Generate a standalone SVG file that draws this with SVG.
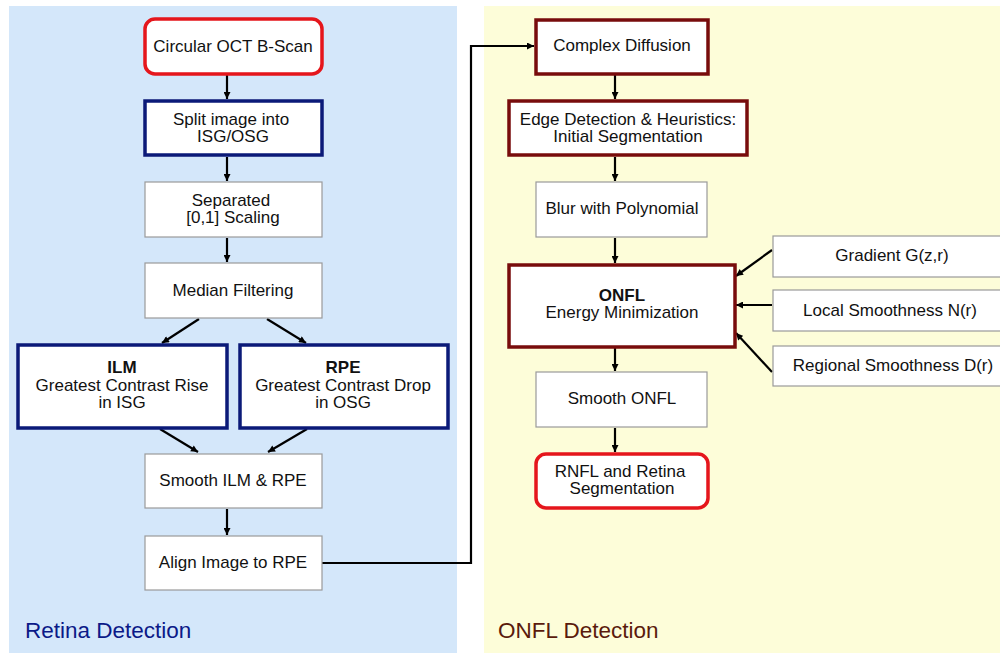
<svg xmlns="http://www.w3.org/2000/svg" width="1000" height="653" viewBox="0 0 1000 653">
<defs>
<marker id="ah" viewBox="0 0 10 10" refX="10" refY="5" markerWidth="8" markerHeight="7" markerUnits="userSpaceOnUse" orient="auto">
<path d="M0,0 L10,5 L0,10 z" fill="#000"/>
</marker>
<style>
text{font-family:"Liberation Sans",Arial,sans-serif;font-size:17px;fill:#111;text-anchor:middle}
.b{font-weight:bold}
.red{fill:#fff;stroke:#e5161c;stroke-width:3.5}
.navy{fill:#fff;stroke:#0b1a78;stroke-width:3.5}
.dred{fill:#fff;stroke:#780c0c;stroke-width:3.5}
.gray{fill:#fff;stroke:#9a9a9a;stroke-width:1.2}
.c{fill:none;stroke:#000;stroke-width:2.2;marker-end:url(#ah)}
.title{font-size:22.5px;text-anchor:start}
</style>
</defs>
<rect x="0" y="0" width="1000" height="653" fill="#fff"/>
<rect x="9" y="6" width="448" height="647" fill="#d4e7fa"/>
<rect x="484" y="6" width="516" height="647" fill="#fdfdd9"/>
<text class="title" x="25" y="638" style="fill:#0b1a88">Retina Detection</text>
<text class="title" x="498" y="638" style="fill:#5a1a0c">ONFL Detection</text>

<g id="connectors">
<line class="c" x1="227" y1="75" x2="227" y2="99"/>
<line class="c" x1="227" y1="157" x2="227" y2="181"/>
<line class="c" x1="227" y1="238" x2="227" y2="262"/>
<line class="c" x1="199" y1="319" x2="162" y2="343"/>
<line class="c" x1="267" y1="319" x2="306" y2="343"/>
<line class="c" x1="160" y1="429" x2="198" y2="452"/>
<line class="c" x1="307" y1="429" x2="268" y2="452"/>
<line class="c" x1="227" y1="509" x2="227" y2="535"/>
<polyline class="c" points="322,563 471,563 471,46 534,46"/>
<line class="c" x1="615" y1="75" x2="615" y2="99"/>
<line class="c" x1="615" y1="157" x2="615" y2="181"/>
<line class="c" x1="615" y1="238" x2="615" y2="263"/>
<line class="c" x1="772" y1="250" x2="736" y2="276"/>
<line class="c" x1="772" y1="305" x2="736" y2="305"/>
<line class="c" x1="772" y1="372" x2="736" y2="333"/>
<line class="c" x1="615" y1="348" x2="615" y2="371"/>
<line class="c" x1="615" y1="428" x2="615" y2="452"/>
</g>

<g id="n-oct"><rect class="red" x="145" y="19" width="177" height="55" rx="10"/><text x="233" y="52">Circular OCT B-Scan</text></g>
<g id="n-split"><rect class="navy" x="145" y="101" width="177" height="54"/><text x="231" y="125">Split image into</text><text x="233" y="142">ISG/OSG</text></g>
<g id="n-scaling"><rect class="gray" x="145" y="182" width="177" height="55"/><text x="231" y="206">Separated</text><text x="233" y="223">[0,1] Scaling</text></g>
<g id="n-median"><rect class="gray" x="145" y="263" width="177" height="55"/><text x="233" y="296">Median Filtering</text></g>
<g id="n-ilm"><rect class="navy" x="18" y="345" width="209" height="83"/><text class="b" x="122" y="373">ILM</text><text x="122" y="391">Greatest Contrast Rise</text><text x="122" y="408">in ISG</text></g>
<g id="n-rpe"><rect class="navy" x="240" y="345" width="208" height="83"/><text class="b" x="343" y="373">RPE</text><text x="343" y="391">Greatest Contrast Drop</text><text x="343" y="408">in OSG</text></g>
<g id="n-smooth"><rect class="gray" x="145" y="454" width="177" height="54"/><text x="233" y="486">Smooth ILM &amp; RPE</text></g>
<g id="n-align"><rect class="gray" x="145" y="536" width="177" height="54"/><text x="233" y="568">Align Image to RPE</text></g>

<g id="n-diffusion"><rect class="dred" x="536" y="20" width="172" height="54"/><text x="622" y="51">Complex Diffusion</text></g>
<g id="n-edge"><rect class="dred" x="509" y="101" width="238" height="54"/><text x="628" y="125">Edge Detection &amp; Heuristics:</text><text x="628" y="142">Initial Segmentation</text></g>
<g id="n-blur"><rect class="gray" x="536" y="182" width="171" height="55"/><text x="622" y="214">Blur with Polynomial</text></g>
<g id="n-onfl"><rect class="dred" x="509" y="265" width="226" height="82"/><text class="b" x="622" y="301">ONFL</text><text x="622" y="318">Energy Minimization</text></g>
<g id="n-gradient"><rect class="gray" x="773" y="236" width="232" height="41"/><text x="892" y="261">Gradient G(z,r)</text></g>
<g id="n-local"><rect class="gray" x="773" y="290" width="232" height="41"/><text x="890" y="316">Local Smoothness N(r)</text></g>
<g id="n-regional"><rect class="gray" x="773" y="346" width="232" height="40"/><text x="893" y="371">Regional Smoothness D(r)</text></g>
<g id="n-smoothonfl"><rect class="gray" x="536" y="372" width="171" height="55"/><text x="622" y="404">Smooth ONFL</text></g>
<g id="n-rnfl"><rect class="red" x="536" y="454" width="172" height="54" rx="10"/><text x="620" y="477">RNFL and Retina</text><text x="622" y="494">Segmentation</text></g>
</svg>
